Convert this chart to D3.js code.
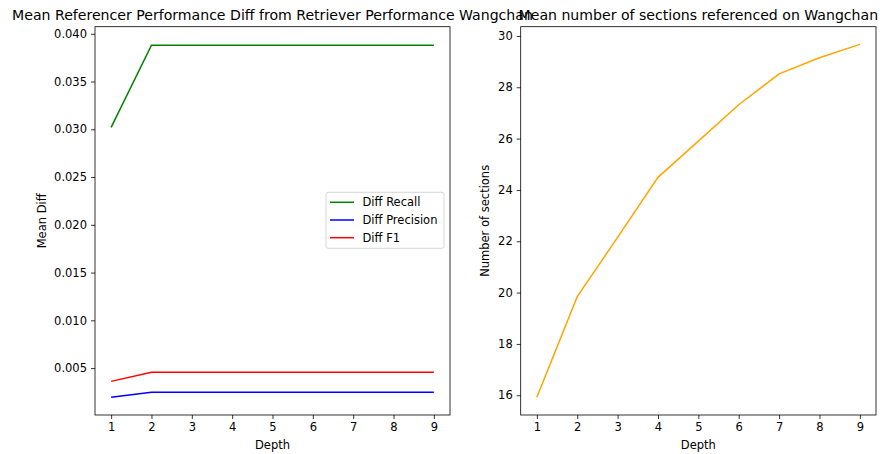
<!DOCTYPE html>
<html><head><meta charset="utf-8">
<script src="https://cdn.jsdelivr.net/npm/d3@7"></script>
<style>body{margin:0;background:#fff}svg text{font-family:"DejaVu Sans",sans-serif;fill:#000}</style>
</head><body><svg id="c" width="880" height="454"></svg>
<script>
const depths = [1,2,3,4,5,6,7,8,9];
const diffRecall = [0.0302,0.0388,0.0388,0.0388,0.0388,0.0388,0.0388,0.0388,0.0388];
const diffPrecision = [0.00194,0.00246,0.00246,0.00246,0.00246,0.00246,0.00246,0.00246,0.00246];
const diffF1 = [0.00361,0.00456,0.00456,0.00456,0.00456,0.00456,0.00456,0.00456,0.00456];
const sections = [15.92,19.84,22.15,24.49,25.9,27.32,28.52,29.15,29.67];
const leftTicks = [0.005,0.010,0.015,0.020,0.025,0.030,0.035,0.040];
const rightTicks = [16,18,20,22,24,26,28,30];
const seriesNames = ["Diff Recall","Diff Precision","Diff F1"];
const seriesColors = ["#008000","#0000ff","#ff0000"];

const svg = d3.select("#c");
const fs = 11.5;

function panel(x0,x1,y0,y1,yDomain,yTicks,yFmt,title,ylabel,ylabelX,series){
  const x = d3.scaleLinear().domain([0.6,9.4]).range([x0,x1]);
  const y = d3.scaleLinear().domain(yDomain).range([y1,y0]);
  const g = svg.append("g");
  const xa = g.append("g").attr("transform",`translate(0,${y1})`)
    .call(d3.axisBottom(x).tickValues(depths).tickFormat(d3.format("d")).tickSize(4).tickPadding(4));
  const ya = g.append("g").attr("transform",`translate(${x0},0)`)
    .call(d3.axisLeft(y).tickValues(yTicks).tickFormat(yFmt).tickSize(4).tickPadding(4));
  [xa,ya].forEach(a=>{a.select(".domain").remove();a.selectAll("text").attr("font-size",fs).attr("font-family","DejaVu Sans").attr("fill","#000");a.selectAll("line").attr("stroke","#000").attr("stroke-width",0.8);});
  const line = d3.line().x((d,i)=>x(depths[i])).y(d=>y(d));
  series.forEach(s=>{
    g.append("path").attr("d",line(s.values)).attr("fill","none").attr("stroke",s.color).attr("stroke-width",1.5);
  });
  g.append("rect").attr("x",x0).attr("y",y0).attr("width",x1-x0).attr("height",y1-y0)
    .attr("fill","none").attr("stroke","#000").attr("stroke-width",0.8);
  g.append("text").attr("x",(x0+x1)/2).attr("y",20).attr("text-anchor","middle").attr("font-size",14.1).text(title);
  g.append("text").attr("x",(x0+x1)/2).attr("y",449).attr("text-anchor","middle").attr("font-size",fs).text("Depth");
  g.append("text").attr("transform",`translate(${ylabelX},${(y0+y1)/2}) rotate(-90)`).attr("text-anchor","middle").attr("font-size",fs).text(ylabel);
  return {x,y,g};
}

const L = panel(95,450,26.7,415,[0.00009,0.04074],leftTicks,d3.format(".3f"),
  "Mean Referencer Performance Diff from Retriever Performance Wangchan","Mean Diff",46,
  [{values:diffRecall,color:seriesColors[0]},{values:diffPrecision,color:seriesColors[1]},{values:diffF1,color:seriesColors[2]}]);

// legend
const lg = svg.append("g");
lg.append("rect").attr("x",326).attr("y",192.3).attr("width",118).attr("height",56).attr("rx",2)
  .attr("fill","#fff").attr("fill-opacity",0.8).attr("stroke","#ccc").attr("stroke-width",0.8);
seriesNames.forEach((n,i)=>{
  const yy = 202.3 + i*17.7;
  lg.append("line").attr("x1",330).attr("x2",354).attr("y1",yy).attr("y2",yy).attr("stroke",seriesColors[i]).attr("stroke-width",1.5);
  lg.append("text").attr("x",362.5).attr("y",yy+4).attr("font-size",fs).text(n);
});

const R = panel(520.7,876,26.7,415,[15.23,30.36],rightTicks,d3.format("d"),
  "Mean number of sections referenced on Wangchan","Number of sections",489,
  [{values:sections,color:"#ffa500"}]);
</script></body></html>
